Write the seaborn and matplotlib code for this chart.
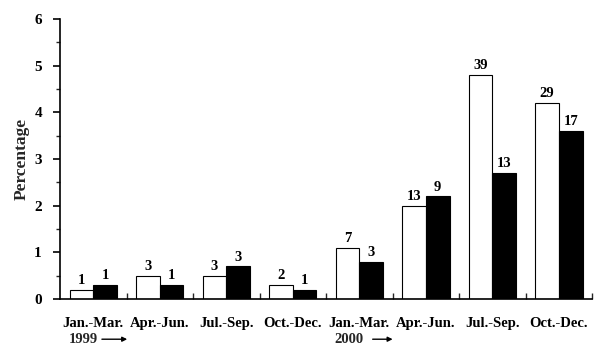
import matplotlib
matplotlib.use("Agg")
import matplotlib.pyplot as plt
from matplotlib.ticker import MultipleLocator, FixedLocator
import seaborn as sns
import pandas as pd

periods = ["1999Q1", "1999Q2", "1999Q3", "1999Q4", "2000Q1", "2000Q2", "2000Q3", "2000Q4"]
tick_labels = ["Jan.-Mar.", "Apr.-Jun.", "Jul.-Sep.", "Oct.-Dec.",
               "Jan.-Mar.", "Apr.-Jun.", "Jul.-Sep.", "Oct.-Dec."]
white_vals = [0.2, 0.5, 0.5, 0.3, 1.1, 2.0, 4.8, 4.2]
black_vals = [0.3, 0.3, 0.7, 0.2, 0.8, 2.2, 2.7, 3.6]
white_counts = [1, 3, 3, 2, 7, 13, 39, 29]
black_counts = [1, 1, 3, 1, 3, 9, 13, 17]
series = ["white", "black"]

df = pd.DataFrame({
    "period": periods * 2,
    "value": white_vals + black_vals,
    "series": [series[0]] * len(periods) + [series[1]] * len(periods),
})

sns.set_style("ticks")
serif = ["Liberation Serif", "DejaVu Serif"]
plt.rcParams["font.family"] = serif
plt.rcParams["font.weight"] = "bold"

fig = plt.figure(figsize=(6, 3.6), dpi=100)
ax = fig.add_axes([0.1, 0.169, 0.887, 0.778])

sns.barplot(data=df, x="period", y="value", hue="series", order=periods,
            hue_order=series, palette={"white": "white", "black": "black"},
            edgecolor="black", linewidth=0.8, width=0.71, legend=False, ax=ax)

for cont, labs in zip(ax.containers, [white_counts, black_counts]):
    ax.bar_label(cont, labels=[str(v) for v in labs], padding=2,
                 fontsize=10.5, fontweight="bold", color="black")

ax.set_xlim(-0.5, len(periods) - 0.5)
ax.set_ylim(0, 6)
ax.set_yticks(range(0, 7))
ax.yaxis.set_minor_locator(MultipleLocator(0.5))
ax.tick_params(axis="y", which="major", direction="out", length=5, width=1.2,
               labelsize=11, colors="black", pad=8)
ax.tick_params(axis="y", which="minor", direction="out", length=3, width=1.0)

ax.set_xticks(range(len(periods)))
ax.set_xticklabels(tick_labels, fontsize=10.5, fontweight="bold")
ax.xaxis.set_minor_locator(FixedLocator([i + 0.5 for i in range(len(periods))]))
ax.tick_params(axis="x", which="major", length=0, pad=13, colors="black")
ax.tick_params(axis="x", which="minor", direction="in", length=4, width=1.0)

for lab in ax.get_yticklabels():
    lab.set_fontweight("bold")

ax.set_xlabel("")
ax.set_ylabel("Percentage", fontsize=12.5, fontweight="bold", labelpad=3)

for s in ["top", "right"]:
    ax.spines[s].set_visible(False)
for s in ["left", "bottom"]:
    ax.spines[s].set_linewidth(1.2)
    ax.spines[s].set_color("black")

trans = ax.get_xaxis_transform()
ax.text(0 - 0.15, -0.143, "1999", transform=trans, ha="center", va="center",
        fontsize=10.5, fontweight="bold")
ax.annotate("", xy=(0.51, -0.143), xytext=(0.13, -0.143), xycoords=trans,
            textcoords=trans,
            arrowprops=dict(arrowstyle="-|>", color="black", lw=1.0,
                            mutation_scale=7, shrinkA=0, shrinkB=0))
ax.text(4 - 0.15, -0.143, "2000", transform=trans, ha="center", va="center",
        fontsize=10.5, fontweight="bold")
ax.annotate("", xy=(4.5, -0.143), xytext=(4.2, -0.143), xycoords=trans,
            textcoords=trans,
            arrowprops=dict(arrowstyle="-|>", color="black", lw=1.0,
                            mutation_scale=7, shrinkA=0, shrinkB=0))

fig.savefig("out.png", dpi=100)
